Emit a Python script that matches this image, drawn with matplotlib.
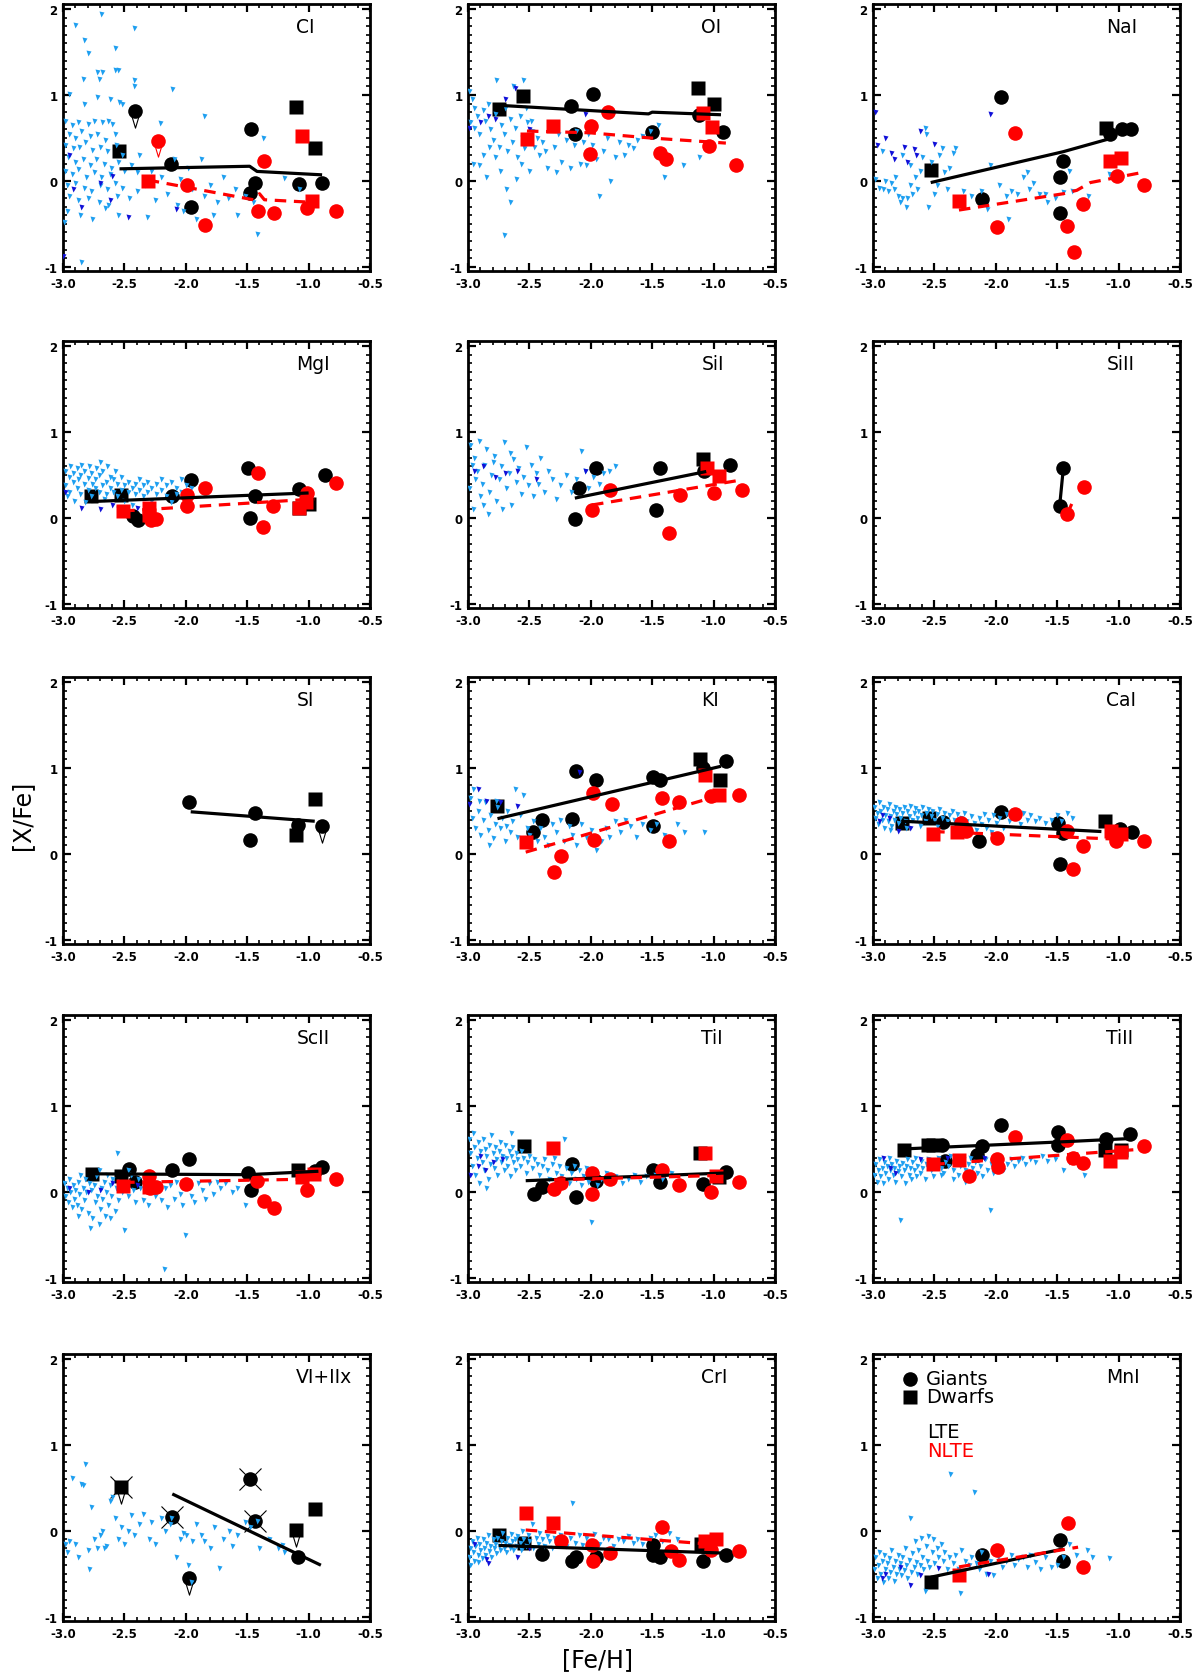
import matplotlib
matplotlib.use("Agg")
import matplotlib.pyplot as plt
from matplotlib.ticker import MultipleLocator, FormatStrFormatter

plt.rcParams['font.family'] = ['DejaVu Sans']
plt.rcParams['axes.unicode_minus'] = False

CYAN = '#1E9FF0'
BLUE = '#1010D8'
RED = '#FF0000'

# ---------------- CI ----------------
ci_bg = [(-2.90,1.82),(-2.69,1.94),(-2.42,1.78),(-2.83,1.64),(-2.58,1.55),(-2.80,1.49),(-2.72,1.27),(-2.68,1.27),
         (-2.58,1.29),(-2.55,1.29),(-2.71,1.19),(-2.84,1.19),(-2.42,1.18),(-2.42,1.10),(-2.11,1.07),(-2.95,1.01),
         (-2.72,0.98),(-2.62,0.95),(-2.83,0.90),(-2.52,0.89),(-2.54,0.92),(-1.85,0.76),(-2.21,0.67),(-1.37,0.50),
         (-2.98,0.70),(-2.93,0.65),(-2.88,0.68),(-2.80,0.66),(-2.75,0.70),(-2.68,0.68),(-2.63,0.70),(-2.60,0.66),
         (-2.95,0.55),(-2.90,0.50),(-2.85,0.58),(-2.78,0.52),(-2.72,0.55),(-2.66,0.48),(-2.58,0.55),(-2.98,0.42),
         (-2.92,0.38),(-2.87,0.40),(-2.82,0.45),(-2.76,0.36),(-2.70,0.40),(-2.64,0.35),(-2.57,0.42),(-2.52,0.30),
         (-2.96,0.28),(-2.90,0.22),(-2.84,0.25),(-2.78,0.18),(-2.73,0.25),(-2.67,0.20),(-2.61,0.15),(-2.55,0.22),
         (-2.98,0.12),(-2.93,0.08),(-2.88,0.14),(-2.81,0.05),(-2.75,0.10),(-2.69,0.05),(-2.62,0.08),(-2.50,0.12),
         (-2.45,0.18),(-2.40,0.10),(-2.97,-0.05),(-2.90,-0.02),(-2.83,-0.08),(-2.77,-0.12),(-2.70,-0.05),(-2.64,-0.10),
         (-2.58,-0.02),(-2.52,-0.08),(-2.95,-0.18),(-2.88,-0.22),(-2.80,-0.20),(-2.71,-0.25),(-2.63,-0.28),(-2.56,-0.18),
         (-2.46,-0.20),(-2.97,-0.35),(-2.86,-0.40),(-2.76,-0.45),(-2.66,-0.32),(-2.55,-0.40),(-2.99,-0.48),
         (-2.38,0.30),(-2.33,-0.05),(-2.28,0.12),(-2.25,-0.22),(-2.20,0.05),(-2.15,-0.15),(-2.10,0.25),(-2.07,-0.28),
         (-2.05,0.02),(-2.02,-0.35),(-1.98,0.15),(-1.95,-0.10),(-1.92,-0.45),(-1.88,0.25),(-1.85,-0.18),(-1.80,-0.05),
         (-1.78,-0.40),(-1.75,-0.25),(-1.70,0.05),(-1.66,-0.20),(-1.60,-0.10),(-1.58,-0.40),(-1.52,-0.18),(-1.45,-0.25),
         (-1.42,-0.62),(-2.32,-0.42),(-2.40,-0.12),(-2.85,-0.95),(-1.20,0.03),(-1.08,-0.10)]
ci_bg_blue = [(-2.92,-0.10),(-2.85,-0.30),(-2.62,-0.22),(-2.47,-0.42),(-3.0,-0.88),(-2.70,-0.02),(-2.95,0.30),
              (-2.08,-0.33),(-2.60,0.06)]
ci_lte_giants = [(-2.12,0.20),(-1.96,-0.30),(-1.47,0.60),(-1.44,-0.02),(-1.48,-0.14),(-1.08,-0.04),(-0.89,-0.02)]
ci_lte_giants_ul = [(-2.41,0.81)]
ci_lte_dwarfs = [(-2.54,0.35),(-1.10,0.86),(-0.95,0.38)]
ci_nlte_giants = [(-1.99,-0.05),(-1.84,-0.51),(-1.36,0.23),(-1.41,-0.35),(-1.28,-0.38),(-1.01,-0.32),(-0.78,-0.35)]
ci_nlte_giants_ul = [(-2.23,0.47)]
ci_nlte_dwarfs = [(-2.31,0.0),(-1.05,0.52),(-0.97,-0.24)]
ci_lte_line = [(-2.54,0.14),(-1.48,0.17),(-1.42,0.11),(-0.89,0.07)]
ci_nlte_line = [(-2.31,0.01),(-1.45,-0.22),(-1.40,-0.15),(-1.36,-0.22),(-0.97,-0.25)]

# ---------------- OI ----------------
oi_bg = [(-2.99,1.05),(-2.97,0.95),(-2.95,0.85),(-2.93,0.75),(-2.98,0.68),(-2.95,0.62),(-2.91,0.55),(-2.88,0.82),
         (-2.86,0.70),(-2.84,0.90),(-2.82,0.60),(-2.80,0.48),(-2.78,0.78),(-2.77,1.17),(-2.75,0.40),(-2.73,0.65),
         (-2.71,0.55),(-2.70,0.85),(-2.68,0.35),(-2.66,0.72),(-2.64,0.45),(-2.63,1.11),(-2.62,0.62),(-2.60,0.28),
         (-2.58,0.75),(-2.56,0.50),(-2.55,1.18),(-2.54,0.38),(-2.52,0.68),(-2.50,0.12),(-2.48,0.58),(-2.46,0.40),
         (-2.44,0.50),(-2.42,0.30),(-2.40,0.45),(-2.37,0.35),(-2.34,0.62),(-2.30,0.40),(-2.27,0.55),(-2.24,0.22),
         (-2.20,0.48),(-2.17,0.15),(-2.14,0.42),(-2.12,0.58),(-2.09,0.20),(-2.06,0.45),(-2.04,0.18),(-2.02,0.55),
         (-1.99,0.42),(-1.96,0.25),(-1.93,-0.18),(-1.90,0.35),(-1.87,0.50),(-1.84,0.00),(-1.80,0.28),(-1.77,0.45),
         (-1.73,0.30),(-1.70,0.42),(-1.66,0.38),(-1.62,0.48),(-1.58,0.52),(-1.52,0.58),(-1.45,0.65),(-1.40,0.05),
         (-1.25,0.18),(-1.12,0.28),(-2.96,0.20),(-2.91,0.19),(-2.85,0.05),(-2.83,0.40),(-2.78,0.28),(-2.74,0.12),
         (-2.71,-0.63),(-2.69,-0.10),(-2.66,-0.25),(-2.61,0.02),(-2.57,0.20),(-2.53,0.85),(-2.49,0.70),(-2.88,0.30),
         (-2.36,0.15),(-2.28,0.10)]
oi_bg_blue = [(-2.99,0.62),(-2.90,0.68),(-2.70,0.95),(-2.62,1.08),(-2.50,0.60),(-2.05,0.78),(-2.84,0.75),(-2.78,0.72)]
oi_lte_giants = [(-2.16,0.87),(-1.98,1.01),(-2.13,0.54),(-1.50,0.57),(-1.12,0.77),(-0.92,0.57)]
oi_lte_dwarfs = [(-2.75,0.84),(-2.55,0.99),(-1.13,1.08),(-1.00,0.89)]
oi_nlte_giants = [(-1.86,0.80),(-2.00,0.64),(-2.01,0.31),(-1.44,0.32),(-1.39,0.25),(-1.04,0.41),(-0.82,0.19)]
oi_nlte_dwarfs = [(-2.52,0.49),(-2.31,0.64),(-1.09,0.79),(-1.01,0.63)]
oi_lte_line = [(-2.75,0.88),(-1.53,0.78),(-1.50,0.80),(-0.94,0.77)]
oi_nlte_line = [(-2.52,0.58),(-2.01,0.56),(-1.52,0.50),(-0.90,0.44)]

# ---------------- NaI ----------------
na_bg = [(-2.98,0.02),(-2.95,-0.08),(-2.92,-0.10),(-2.90,0.00),(-2.88,-0.12),(-2.85,-0.02),(-2.83,-0.10),(-2.80,-0.18),
         (-2.78,-0.25),(-2.76,-0.20),(-2.73,-0.30),(-2.72,-0.20),(-2.70,-0.05),(-2.68,-0.15),(-2.66,0.05),(-2.64,-0.10),
         (-2.62,0.12),(-2.60,0.28),(-2.58,0.62),(-2.57,0.55),(-2.55,-0.30),(-2.53,0.22),(-2.50,-0.15),(-2.48,-0.05),
         (-2.46,0.30),(-2.44,0.38),(-2.42,0.10),(-2.40,-0.10),(-2.38,0.15),(-2.35,0.32),(-2.33,0.38),(-2.30,-0.22),
         (-2.27,-0.12),(-2.20,-0.18),(-2.12,-0.12),(-2.07,-0.33),(-2.05,0.18),(-1.97,-0.05),(-1.92,-0.18),(-1.88,-0.12),
         (-1.83,-0.15),(-1.78,0.05),(-1.75,0.10),(-1.73,-0.10),(-1.70,-0.02),(-1.65,-0.15),(-1.60,-0.15),(-1.58,-0.25),
         (-1.52,-0.20),(-1.45,-0.13),(-1.40,0.12),(-1.38,-0.12),(-1.25,-0.18),(-1.08,0.08),(-1.90,-0.45),(-2.82,0.05),
         (-2.76,0.30),(-2.70,0.18),(-2.93,0.35)]
na_bg_blue = [(-2.98,0.80),(-2.97,0.42),(-2.90,0.50),(-2.85,0.33),(-2.83,0.25),(-2.75,0.40),(-2.72,0.22),(-2.65,0.30),
              (-2.62,0.58),(-2.50,0.43),(-2.05,0.78),(-2.67,0.37)]
na_lte_giants = [(-1.96,0.98),(-2.11,-0.21),(-1.45,0.23),(-1.48,0.04),(-1.48,-0.37),(-1.07,0.55),(-0.97,0.60),(-0.90,0.60)]
na_lte_dwarfs = [(-2.53,0.13),(-1.10,0.62)]
na_nlte_giants = [(-1.84,0.56),(-1.99,-0.54),(-1.42,-0.53),(-1.36,-0.83),(-1.29,-0.27),(-1.01,0.06),(-0.79,-0.05)]
na_nlte_dwarfs = [(-2.30,-0.23),(-1.07,0.23),(-0.98,0.27)]
na_lte_line = [(-2.53,-0.02),(-1.45,0.34),(-1.05,0.50)]
na_nlte_line = [(-2.30,-0.34),(-1.45,-0.15),(-1.34,-0.11),(-1.23,-0.02),(-0.80,0.10)]

# ---------------- MgI ----------------
mg_bg = [(-2.98,0.55),(-2.98,0.38),(-2.97,0.25),(-2.95,0.48),(-2.95,0.30),(-2.94,0.60),(-2.92,0.42),(-2.92,0.52),
         (-2.91,0.20),(-2.89,0.35),(-2.89,0.58),(-2.88,0.45),(-2.86,0.28),(-2.86,0.50),(-2.85,0.62),(-2.83,0.40),
         (-2.83,0.55),(-2.82,0.18),(-2.80,0.33),(-2.80,0.47),(-2.79,0.60),(-2.77,0.25),(-2.77,0.52),(-2.76,0.40),
         (-2.74,0.45),(-2.74,0.35),(-2.73,0.58),(-2.71,0.30),(-2.71,0.50),(-2.70,0.65),(-2.68,0.38),(-2.68,0.55),
         (-2.67,0.22),(-2.65,0.42),(-2.65,0.28),(-2.64,0.60),(-2.62,0.35),(-2.62,0.48),(-2.59,0.30),(-2.59,0.45),
         (-2.58,0.55),(-2.56,0.40),(-2.56,0.25),(-2.53,0.33),(-2.53,0.48),(-2.50,0.38),(-2.50,0.20),(-2.47,0.42),
         (-2.47,0.30),(-2.44,0.35),(-2.44,0.15),(-2.41,0.40),(-2.41,0.28),(-2.38,0.32),(-2.38,0.45),(-2.35,0.25),
         (-2.35,0.38),(-2.32,0.42),(-2.32,0.30),(-2.28,0.20),(-2.28,0.35),(-2.24,0.40),(-2.24,0.28),(-2.20,0.32),
         (-2.20,0.45),(-2.16,0.25),(-2.16,0.38),(-2.12,0.42),(-2.12,0.18),(-2.08,0.35),(-2.08,0.28),(-2.04,0.45),
         (-2.04,0.30),(-2.00,0.38),(-1.96,0.35)]
mg_bg_blue = [(-2.85,0.12),(-2.70,0.10),(-2.60,0.15),(-2.98,0.30),(-2.40,0.12),(-2.55,0.10)]
mg_lte_giants = [(-1.49,0.58),(-0.87,0.50),(-1.44,0.25),(-1.08,0.34),(-1.48,0.0),(-1.96,0.44),(-2.11,0.25),
                 (-2.43,0.02),(-2.39,-0.03)]
mg_lte_dwarfs = [(-2.77,0.25),(-2.53,0.27),(-1.08,0.12),(-1.00,0.16)]
mg_nlte_giants = [(-1.41,0.52),(-1.84,0.35),(-1.99,0.27),(-1.99,0.14),(-1.29,0.14),(-1.37,-0.11),(-0.78,0.41),
                  (-1.01,0.29),(-2.28,-0.03),(-2.24,-0.01)]
mg_nlte_dwarfs = [(-2.51,0.08),(-2.30,0.12),(-2.30,0.03),(-1.08,0.12),(-1.02,0.18)]
mg_lte_line = [(-2.77,0.19),(-1.00,0.29)]
mg_nlte_line = [(-2.51,0.08),(-0.95,0.22)]

# ---------------- SiI ----------------
si_bg = [(-2.98,0.85),(-2.95,0.70),(-2.93,0.55),(-2.91,0.90),(-2.89,0.40),(-2.87,0.62),(-2.85,0.80),(-2.83,0.30),
         (-2.81,0.50),(-2.79,0.72),(-2.77,0.20),(-2.75,0.45),(-2.73,0.60),(-2.71,0.88),(-2.69,0.35),(-2.67,0.52),
         (-2.65,0.15),(-2.63,0.68),(-2.61,0.42),(-2.59,0.58),(-2.57,0.28),(-2.55,0.48),(-2.53,0.82),(-2.51,0.38),
         (-2.49,0.62),(-2.47,0.25),(-2.45,0.52),(-2.43,0.40),(-2.41,0.70),(-2.38,0.30),(-2.35,0.55),(-2.32,0.45),
         (-2.28,0.22),(-2.25,0.38),(-2.20,0.50),(-2.16,0.30),(-2.12,0.45),(-2.08,0.78),(-2.05,0.55),(-2.02,0.35),
         (-1.98,0.48),(-1.93,0.40),(-1.90,0.52),(-1.85,0.55),(-1.80,0.60),(-2.96,0.10),(-2.90,0.25),(-2.84,0.05),
         (-2.72,0.10),(-2.99,0.35),(-2.97,0.62),(-2.94,0.45),(-2.88,0.15),(-2.80,0.65),(-2.66,0.75)]
si_bg_blue = [(-2.95,0.55),(-2.88,0.60),(-2.78,0.48),(-2.70,0.52),(-2.60,0.55),(-2.45,0.45),(-2.05,0.55)]
si_lte_giants = [(-2.13,-0.01),(-2.10,0.35),(-1.96,0.58),(-1.44,0.58),(-1.47,0.09),(-1.08,0.55),(-0.87,0.62)]
si_lte_dwarfs = [(-1.09,0.69)]
si_nlte_giants = [(-1.99,0.09),(-1.84,0.32),(-1.36,-0.18),(-1.27,0.27),(-1.00,0.29),(-0.77,0.32)]
si_nlte_dwarfs = [(-1.05,0.58),(-0.96,0.49)]
si_lte_line = [(-2.13,0.23),(-1.06,0.54)]
si_nlte_line = [(-1.99,0.15),(-0.78,0.44)]

# ---------------- SiII ----------------
si2_lte_giants = [(-1.45,0.58),(-1.48,0.14)]
si2_nlte_giants = [(-1.28,0.36),(-1.42,0.04)]
si2_lte_line = [(-1.48,0.14),(-1.45,0.58)]
si2_nlte_line = [(-1.42,0.04),(-1.37,0.20)]

# ---------------- SI ----------------
s_lte_giants = [(-1.97,0.60),(-1.44,0.48),(-1.48,0.16),(-1.09,0.34)]
s_lte_giants_ul = [(-0.89,0.32)]
s_lte_dwarfs = [(-0.95,0.64),(-1.10,0.22)]
s_lte_line = [(-1.96,0.49),(-0.95,0.38)]

# ---------------- KI ----------------
k_bg = [(-2.98,0.65),(-2.96,0.75),(-2.94,0.30),(-2.92,0.50),(-2.90,0.22),(-2.88,0.40),(-2.86,0.60),(-2.84,0.28),
        (-2.82,0.45),(-2.80,0.18),(-2.78,0.35),(-2.76,0.55),(-2.74,0.30),(-2.72,0.42),(-2.70,0.15),(-2.68,0.50),
        (-2.66,0.25),(-2.64,0.38),(-2.62,0.75),(-2.60,0.20),(-2.58,0.45),(-2.56,0.10),(-2.55,0.68),(-2.52,0.30),
        (-2.50,0.22),(-2.47,0.38),(-2.44,0.15),(-2.41,0.30),(-2.38,0.20),(-2.35,0.10),(-2.32,0.35),(-2.28,0.25),
        (-2.25,0.40),(-2.22,0.15),(-2.18,0.32),(-2.15,0.22),(-2.12,0.10),(-2.08,0.35),(-2.04,0.20),(-2.00,0.28),
        (-1.96,0.05),(-1.92,0.15),(-1.88,0.30),(-1.85,0.20),(-1.80,0.38),(-1.76,0.25),(-1.72,0.40),(-1.68,0.32),
        (-1.63,0.20),(-1.58,0.35),(-1.52,0.28),(-1.47,0.35),(-1.40,0.22),(-1.36,0.18),(-1.30,0.35),(-1.24,0.25),
        (-1.08,0.25),(-2.97,0.42),(-2.91,0.62),(-2.83,0.10),(-2.77,0.62),(-2.69,0.32)]
k_bg_blue = [(-2.99,0.58),(-2.92,0.76),(-2.85,0.62),(-2.74,0.60),(-2.10,0.95),(-2.60,0.56)]
k_lte_giants = [(-2.12,0.97),(-1.96,0.86),(-2.40,0.40),(-2.47,0.25),(-2.15,0.41),(-1.49,0.90),(-1.44,0.86),
                (-1.49,0.32),(-0.90,1.08),(-1.09,1.00)]
k_lte_dwarfs = [(-2.76,0.56),(-1.11,1.11),(-0.95,0.86)]
k_nlte_giants = [(-1.98,0.71),(-1.83,0.58),(-1.97,0.16),(-2.24,-0.03),(-2.30,-0.21),(-1.42,0.65),(-1.28,0.60),
                 (-1.36,0.15),(-1.02,0.67),(-0.79,0.69)]
k_nlte_dwarfs = [(-2.53,0.14),(-1.07,0.92),(-0.96,0.68)]
k_lte_line = [(-2.76,0.41),(-0.94,1.02)]
k_nlte_line = [(-2.53,0.02),(-1.00,0.66)]

# ---------------- CaI ----------------
ca_bg = [(-2.99,0.55),(-2.98,0.42),(-2.97,0.48),(-2.96,0.35),(-2.95,0.60),(-2.94,0.50),(-2.93,0.40),(-2.92,0.55),
         (-2.91,0.30),(-2.90,0.45),(-2.89,0.52),(-2.88,0.38),(-2.87,0.58),(-2.86,0.44),(-2.85,0.33),(-2.84,0.50),
         (-2.83,0.40),(-2.82,0.55),(-2.81,0.46),(-2.80,0.36),(-2.79,0.52),(-2.78,0.42),(-2.76,0.48),(-2.75,0.55),
         (-2.74,0.38),(-2.72,0.50),(-2.71,0.44),(-2.70,0.56),(-2.68,0.40),(-2.67,0.48),(-2.66,0.53),(-2.64,0.42),
         (-2.63,0.50),(-2.61,0.45),(-2.60,0.55),(-2.58,0.38),(-2.57,0.48),(-2.55,0.52),(-2.53,0.44),(-2.52,0.50),
         (-2.50,0.40),(-2.48,0.47),(-2.46,0.52),(-2.44,0.42),(-2.42,0.48),(-2.40,0.38),(-2.38,0.45),(-2.36,0.50),
         (-2.34,0.40),(-2.32,0.46),(-2.30,0.35),(-2.28,0.42),(-2.26,0.48),(-2.24,0.38),(-2.22,0.30),(-2.20,0.44),
         (-2.18,0.36),(-2.16,0.28),(-2.14,0.42),(-2.12,0.35),(-2.10,0.47),(-2.08,0.30),(-2.06,0.40),(-2.04,0.25),
         (-2.02,0.45),(-2.00,0.36),(-1.97,0.42),(-1.94,0.30),(-1.92,0.46),(-1.89,0.38),(-1.86,0.50),(-1.83,0.42),
         (-1.80,0.35),(-1.78,0.48),(-1.75,0.40),(-1.72,0.45),(-1.68,0.38),(-1.65,0.42),(-1.60,0.36),(-1.55,0.40),
         (-1.50,0.45),(-1.47,0.38),(-1.42,0.48),(-1.38,0.42),(-2.86,0.28),(-2.73,0.30),(-2.62,0.33),(-2.48,0.32)]
ca_bg_blue = [(-2.95,0.38),(-2.87,0.42),(-2.80,0.27),(-2.70,0.30),(-2.93,0.45)]
ca_lte_giants = [(-1.96,0.49),(-2.14,0.15),(-2.43,0.37),(-1.49,0.36),(-1.45,0.24),(-1.48,-0.12),(-0.89,0.26),(-0.99,0.29)]
ca_lte_dwarfs = [(-2.76,0.36),(-2.54,0.42),(-1.11,0.38)]
ca_nlte_giants = [(-1.84,0.46),(-1.99,0.18),(-2.28,0.36),(-2.24,0.27),(-1.42,0.27),(-1.29,0.09),(-1.37,-0.18),
                  (-1.02,0.15),(-0.79,0.15)]
ca_nlte_dwarfs = [(-2.51,0.23),(-2.32,0.26),(-1.06,0.27),(-0.98,0.23)]
ca_lte_line = [(-2.76,0.38),(-1.14,0.26)]
ca_nlte_line = [(-2.51,0.26),(-0.99,0.17)]

# ---------------- ScII ----------------
sc_bg = [(-2.99,0.10),(-2.98,-0.05),(-2.97,0.05),(-2.96,-0.12),(-2.95,0.15),(-2.94,0.00),(-2.93,-0.18),(-2.92,0.08),
         (-2.91,-0.08),(-2.90,0.02),(-2.89,-0.15),(-2.88,0.12),(-2.87,-0.02),(-2.86,0.20),(-2.85,-0.20),(-2.84,0.05),
         (-2.83,-0.10),(-2.82,0.15),(-2.81,0.00),(-2.80,-0.25),(-2.79,0.10),(-2.78,-0.42),(-2.77,0.02),(-2.76,-0.30),
         (-2.75,0.08),(-2.74,-0.12),(-2.73,0.18),(-2.72,-0.05),(-2.71,0.25),(-2.70,-0.20),(-2.69,0.05),(-2.68,-0.08),
         (-2.67,0.12),(-2.66,-0.28),(-2.65,0.00),(-2.64,0.20),(-2.63,-0.15),(-2.62,0.08),(-2.61,-0.05),(-2.60,0.15),
         (-2.58,-0.22),(-2.57,0.05),(-2.56,0.45),(-2.55,-0.10),(-2.54,0.12),(-2.52,0.00),(-2.50,-0.45),(-2.49,0.10),
         (-2.47,-0.05),(-2.45,0.20),(-2.43,0.02),(-2.41,-0.12),(-2.39,0.15),(-2.37,0.05),(-2.35,-0.10),(-2.33,0.08),
         (-2.31,-0.15),(-2.29,0.12),(-2.27,0.00),(-2.25,-0.05),(-2.23,0.10),(-2.20,-0.10),(-2.18,-0.90),(-2.17,0.05),
         (-2.15,-0.18),(-2.13,0.08),(-2.10,-0.08),(-2.08,0.12),(-2.05,-0.02),(-2.03,-0.15),(-2.01,-0.50),(-1.99,0.05),
         (-1.96,-0.05),(-1.93,-0.12),(-1.90,0.10),(-1.87,0.02),(-1.84,-0.08),(-1.81,0.10),(-1.78,-0.02),(-1.75,0.12),
         (-1.72,0.05),(-1.68,0.10),(-1.62,0.00),(-1.58,0.05),(-1.52,-0.15),(-2.26,0.20),(-2.47,0.25),(-2.88,-0.28),
         (-2.71,-0.38),(-2.62,-0.30)]
sc_bg_blue = [(-2.95,0.05),(-2.80,0.0),(-2.70,0.02),(-2.60,0.10),(-2.40,0.08)]
sc_lte_giants = [(-1.97,0.38),(-2.11,0.25),(-2.46,0.27),(-2.41,0.11),(-1.49,0.22),(-1.47,0.02),(-0.89,0.29),(-0.95,0.24)]
sc_lte_dwarfs = [(-2.76,0.21),(-2.53,0.19),(-1.09,0.26)]
sc_nlte_giants = [(-2.30,0.18),(-2.24,0.06),(-2.29,0.04),(-2.00,0.09),(-1.42,0.13),(-1.36,-0.11),(-1.28,-0.19),
                  (-1.01,0.02),(-0.78,0.15)]
sc_nlte_dwarfs = [(-2.51,0.07),(-2.30,0.06),(-1.05,0.17),(-0.96,0.21)]
sc_lte_line = [(-2.76,0.21),(-1.50,0.20),(-0.92,0.24)]
sc_nlte_line = [(-2.51,0.11),(-0.91,0.15)]

# ---------------- TiI ----------------
ti_bg = [(-2.99,0.62),(-2.98,0.45),(-2.97,0.30),(-2.96,0.68),(-2.95,0.52),(-2.94,0.20),(-2.93,0.40),(-2.92,0.58),
         (-2.91,0.10),(-2.90,0.48),(-2.89,0.35),(-2.88,0.62),(-2.87,0.25),(-2.86,0.50),(-2.85,0.42),(-2.84,0.15),
         (-2.83,0.55),(-2.82,0.32),(-2.81,0.66),(-2.80,0.45),(-2.79,0.28),(-2.78,0.52),(-2.77,0.38),(-2.76,0.20),
         (-2.75,0.48),(-2.74,0.58),(-2.73,0.35),(-2.72,0.42),(-2.71,0.25),(-2.70,0.55),(-2.69,0.40),(-2.68,0.30),
         (-2.67,0.48),(-2.66,0.18),(-2.65,0.42),(-2.64,0.52),(-2.63,0.35),(-2.62,0.25),(-2.61,0.45),(-2.60,0.38),
         (-2.58,0.30),(-2.57,0.48),(-2.55,0.40),(-2.53,0.22),(-2.52,0.35),(-2.50,0.42),(-2.48,0.28),(-2.46,0.38),
         (-2.44,0.32),(-2.42,0.20),(-2.40,0.30),(-2.38,0.38),(-2.36,0.25),(-2.34,0.15),(-2.32,0.32),(-2.30,0.40),
         (-2.28,0.22),(-2.26,0.30),(-2.24,0.18),(-2.22,0.62),(-2.20,0.28),(-2.18,0.10),(-2.16,0.22),(-2.14,0.30),
         (-2.12,0.15),(-2.10,0.25),(-2.08,0.08),(-2.06,0.18),(-2.04,0.28),(-2.02,0.12),(-2.00,-0.35),(-1.98,0.20),
         (-1.95,0.08),(-1.92,0.15),(-1.88,0.22),(-1.85,0.12),(-1.80,0.18),(-1.75,0.10),(-1.70,0.15),(-1.65,0.20),
         (-1.60,0.12),(-1.55,0.18),(-1.48,0.20),(-1.42,0.15),(-1.35,0.22),(-2.65,0.68),(-2.85,0.05)]
ti_bg_blue = [(-2.98,0.20),(-2.92,0.30),(-2.86,0.25),(-2.80,0.35),(-2.72,0.38),(-2.90,0.42)]
ti_lte_giants = [(-2.46,-0.03),(-2.40,0.06),(-2.15,0.32),(-2.12,-0.06),(-1.96,0.13),(-1.49,0.26),(-1.44,0.12),
                 (-1.09,0.09),(-0.90,0.23)]
ti_lte_dwarfs = [(-2.54,0.53),(-1.11,0.45),(-0.96,0.17)]
ti_nlte_giants = [(-2.30,0.03),(-2.24,0.10),(-1.99,0.22),(-1.99,-0.03),(-1.84,0.15),(-1.42,0.26),(-1.28,0.08),
                  (-1.02,0.0),(-0.79,0.12)]
ti_nlte_dwarfs = [(-2.31,0.51),(-1.07,0.45),(-0.98,0.19)]
ti_lte_line = [(-2.53,0.13),(-0.90,0.22)]
ti_nlte_line = [(-2.30,0.14),(-0.98,0.19)]

# ---------------- TiII ----------------
ti2_bg = [(-2.99,0.20),(-2.98,0.32),(-2.97,0.12),(-2.96,0.25),(-2.95,0.38),(-2.94,0.18),(-2.93,0.28),(-2.92,0.10),
          (-2.91,0.35),(-2.90,0.22),(-2.89,0.30),(-2.88,0.15),(-2.87,0.40),(-2.86,0.25),(-2.85,0.32),(-2.84,0.20),
          (-2.83,0.28),(-2.82,0.12),(-2.81,0.36),(-2.80,0.24),(-2.79,0.30),(-2.78,-0.33),(-2.77,0.18),(-2.76,0.34),
          (-2.75,0.26),(-2.74,0.10),(-2.73,0.30),(-2.72,0.38),(-2.71,0.20),(-2.70,0.28),(-2.69,0.15),(-2.68,0.35),
          (-2.67,0.25),(-2.66,0.40),(-2.65,0.18),(-2.64,0.30),(-2.62,0.22),(-2.61,0.36),(-2.60,0.28),(-2.58,0.15),
          (-2.57,0.32),(-2.55,0.38),(-2.53,0.25),(-2.51,0.18),(-2.49,0.32),(-2.47,0.40),(-2.45,0.28),(-2.43,0.22),
          (-2.41,0.35),(-2.39,0.30),(-2.37,0.42),(-2.35,0.26),(-2.33,0.35),(-2.31,0.20),(-2.29,0.30),(-2.27,0.38),
          (-2.25,0.25),(-2.23,0.32),(-2.21,0.40),(-2.19,0.28),(-2.17,0.35),(-2.15,0.22),(-2.13,0.30),(-2.11,0.18),
          (-2.09,0.38),(-2.07,0.25),(-2.05,-0.21),(-2.04,0.32),(-2.02,0.22),(-2.00,0.28),(-1.97,0.35),(-1.94,0.25),
          (-1.91,0.32),(-1.88,0.38),(-1.85,0.30),(-1.82,0.36),(-1.79,0.40),(-1.76,0.33),(-1.72,0.38),(-1.68,0.35),
          (-1.62,0.42),(-1.58,0.36),(-1.52,0.38),(-1.45,0.25),(-1.40,0.35),(-1.33,0.30),(-1.28,0.20),(-2.35,0.15),
          (-2.25,0.12),(-2.45,0.20)]
ti2_bg_blue = [(-2.92,0.40),(-2.86,0.28),(-2.82,0.22),(-2.62,0.38),(-2.40,0.40),(-2.10,0.40)]
ti2_lte_giants = [(-1.96,0.78),(-1.49,0.70),(-1.49,0.55),(-1.10,0.62),(-0.91,0.67),(-2.11,0.53),(-2.15,0.43),
                  (-2.44,0.55),(-2.41,0.36)]
ti2_lte_dwarfs = [(-2.75,0.49),(-2.55,0.55),(-2.51,0.55),(-1.11,0.49),(-0.98,0.49)]
ti2_nlte_giants = [(-1.84,0.64),(-1.99,0.38),(-1.98,0.29),(-2.22,0.19),(-1.42,0.60),(-1.37,0.40),(-1.29,0.34),
                   (-0.79,0.53)]
ti2_nlte_dwarfs = [(-2.51,0.32),(-2.30,0.37),(-1.07,0.36),(-0.98,0.47)]
ti2_lte_line = [(-2.75,0.50),(-1.50,0.58),(-0.92,0.62)]
ti2_nlte_line = [(-2.51,0.32),(-0.88,0.49)]

# ---------------- VI+IIx ----------------
v_bg = [(-2.97,-0.25),(-2.95,-0.12),(-2.93,0.62),(-2.90,-0.15),(-2.88,-0.30),(-2.85,0.55),(-2.84,0.53),(-2.82,0.78),
        (-2.80,-0.22),(-2.79,-0.45),(-2.77,0.28),(-2.75,-0.10),(-2.72,-0.20),(-2.70,-0.05),(-2.68,0.00),(-2.65,-0.18),
        (-2.62,0.35),(-2.60,0.40),(-2.58,0.15),(-2.55,-0.10),(-2.53,0.05),(-2.50,-0.15),(-2.47,0.00),(-2.45,0.18),
        (-2.42,-0.05),(-2.38,0.08),(-2.35,0.20),(-2.30,-0.10),(-2.28,0.10),(-2.25,-0.15),(-2.20,0.15),(-2.17,0.00),
        (-2.13,0.08),(-2.08,-0.30),(-2.05,-0.10),(-2.02,-0.02),(-1.98,-0.40),(-1.96,-0.60),(-1.95,-0.12),(-1.92,0.08),
        (-1.88,-0.05),(-1.85,-0.12),(-1.80,-0.20),(-1.77,0.05),(-1.73,-0.43),(-1.70,-0.10),(-1.65,0.00),(-1.62,-0.18),
        (-1.58,-0.05),(-1.52,0.10),(-1.48,0.05),(-1.42,0.12),(-1.40,-0.20),(-1.32,-0.10),(-1.25,-0.20),(-1.20,-0.25),
        (-1.22,-0.17),(-2.98,-0.15),(-2.67,-0.20),(-2.12,0.15),(-2.00,-0.05)]
v_lte_giants = [(-1.09,-0.30),(-2.11,0.16),(-1.48,0.60),(-1.44,0.11)]
v_lte_giants_ul = [(-1.97,-0.55)]
v_lte_dwarfs = [(-0.95,0.25)]
v_lte_dwarfs_ul = [(-2.53,0.51),(-1.10,0.01)]
v_crossed = [(-2.53,0.51),(-2.11,0.16),(-1.48,0.60),(-1.44,0.11)]
v_lte_line = [(-2.11,0.43),(-0.90,-0.40)]

# ---------------- CrI ----------------
cr_bg = [(-2.99,-0.30),(-2.98,-0.20),(-2.97,-0.12),(-2.96,-0.25),(-2.95,-0.35),(-2.94,-0.18),(-2.93,-0.08),(-2.92,-0.28),
         (-2.91,-0.15),(-2.90,-0.22),(-2.89,-0.32),(-2.88,-0.10),(-2.87,-0.20),(-2.86,-0.28),(-2.85,-0.14),(-2.84,-0.05),
         (-2.83,-0.24),(-2.82,-0.18),(-2.81,-0.30),(-2.80,-0.10),(-2.79,-0.20),(-2.78,-0.15),(-2.77,-0.26),(-2.76,-0.08),
         (-2.75,-0.18),(-2.74,-0.22),(-2.73,-0.12),(-2.72,-0.02),(-2.71,-0.20),(-2.70,-0.14),(-2.69,-0.25),(-2.68,-0.08),
         (-2.67,-0.16),(-2.66,-0.20),(-2.65,-0.04),(-2.64,-0.12),(-2.63,-0.22),(-2.62,-0.10),(-2.61,-0.18),(-2.60,-0.06),
         (-2.58,-0.14),(-2.57,-0.22),(-2.56,0.00),(-2.55,-0.10),(-2.53,-0.18),(-2.51,-0.05),(-2.50,-0.12),(-2.48,0.08),
         (-2.47,-0.20),(-2.45,-0.08),(-2.43,-0.15),(-2.42,-0.02),(-2.40,-0.10),(-2.38,-0.18),(-2.36,-0.06),(-2.34,-0.12),
         (-2.32,-0.20),(-2.30,-0.08),(-2.27,-0.14),(-2.25,-0.05),(-2.22,-0.12),(-2.20,-0.18),(-2.17,-0.08),(-2.15,0.32),
         (-2.13,-0.14),(-2.10,-0.05),(-2.07,-0.16),(-2.04,-0.08),(-2.00,-0.12),(-1.97,-0.04),(-1.93,-0.15),(-1.90,-0.08),
         (-1.86,-0.10),(-1.82,-0.18),(-1.78,-0.10),(-1.74,-0.12),(-1.70,-0.06),(-1.66,-0.14),(-1.62,-0.10),(-1.58,-0.15),
         (-1.52,-0.08),(-1.48,-0.05),(-1.42,-0.12),(-1.36,-0.02),(-1.30,-0.10),(-2.98,-0.40),(-2.92,-0.36)]
cr_bg_blue = [(-2.85,-0.33),(-2.84,-0.38),(-2.60,-0.30),(-2.50,-0.20),(-2.95,-0.15)]
cr_lte_giants = [(-2.40,-0.27),(-2.15,-0.35),(-2.12,-0.30),(-1.96,-0.31),(-1.49,-0.16),(-1.49,-0.28),(-1.44,-0.31),
                 (-1.09,-0.35),(-0.90,-0.28)]
cr_lte_dwarfs = [(-2.75,-0.05),(-2.54,-0.14),(-1.10,-0.15)]
cr_nlte_giants = [(-2.24,-0.12),(-1.99,-0.17),(-1.98,-0.35),(-1.84,-0.26),(-1.42,0.04),(-1.35,-0.24),(-1.28,-0.34),
                  (-1.02,-0.22),(-0.79,-0.23)]
cr_nlte_dwarfs = [(-2.53,0.21),(-2.31,0.09),(-1.07,-0.12),(-0.98,-0.10)]
cr_lte_line = [(-2.75,-0.17),(-0.90,-0.26)]
cr_nlte_line = [(-2.53,0.01),(-0.98,-0.16)]

# ---------------- MnI ----------------
mn_bg = [(-2.99,-0.45),(-2.98,-0.30),(-2.97,-0.55),(-2.96,-0.40),(-2.95,-0.25),(-2.94,-0.50),(-2.93,-0.35),(-2.92,-0.60),
         (-2.91,-0.28),(-2.90,-0.45),(-2.89,-0.38),(-2.88,-0.55),(-2.87,-0.32),(-2.86,-0.48),(-2.85,-0.22),(-2.84,-0.42),
         (-2.83,-0.58),(-2.82,-0.35),(-2.81,-0.50),(-2.80,-0.28),(-2.79,-0.44),(-2.78,-0.38),(-2.77,-0.52),(-2.76,-0.30),
         (-2.75,-0.46),(-2.74,-0.20),(-2.73,-0.40),(-2.72,-0.55),(-2.71,-0.34),(-2.70,0.15),(-2.69,-0.48),(-2.68,-0.26),
         (-2.67,-0.42),(-2.66,-0.12),(-2.65,-0.36),(-2.64,-0.50),(-2.63,-0.22),(-2.62,-0.40),(-2.61,-0.08),(-2.60,-0.30),
         (-2.59,-0.45),(-2.58,-0.70),(-2.57,-0.18),(-2.56,-0.35),(-2.55,-0.06),(-2.54,-0.42),(-2.52,-0.25),(-2.51,-0.10),
         (-2.50,-0.38),(-2.48,-0.20),(-2.47,-0.30),(-2.45,-0.15),(-2.43,-0.35),(-2.42,-0.25),(-2.40,-0.45),(-2.38,-0.30),
         (-2.37,0.66),(-2.35,-0.38),(-2.33,-0.28),(-2.31,-0.45),(-2.29,-0.72),(-2.28,-0.22),(-2.25,-0.35),(-2.22,-0.40),
         (-2.20,-0.30),(-2.18,0.45),(-2.16,-0.38),(-2.14,-0.45),(-2.12,-0.25),(-2.08,-0.50),(-2.05,-0.35),(-2.02,-0.52),
         (-1.98,-0.30),(-1.95,-0.42),(-1.92,-0.35),(-1.88,-0.28),(-1.85,-0.40),(-1.82,-0.33),(-1.78,-0.30),(-1.75,-0.42),
         (-1.72,-0.28),(-1.68,-0.36),(-1.64,-0.45),(-1.60,-0.30),(-1.55,-0.42),(-1.50,-0.40),(-1.45,-0.30),(-1.40,-0.15),
         (-1.35,-0.28),(-1.30,-0.46),(-1.26,-0.22),(-1.22,-0.30),(-1.08,-0.32)]
mn_bg_blue = [(-2.93,-0.55),(-2.90,-0.50),(-2.70,-0.63),(-2.62,-0.52),(-2.47,-0.43),(-2.06,-0.50),(-2.78,-0.42)]
mn_lte_giants = [(-2.11,-0.28),(-1.48,-0.11),(-1.45,-0.35)]
mn_lte_dwarfs = [(-2.53,-0.60)]
mn_nlte_giants = [(-1.99,-0.22),(-1.41,0.09),(-1.29,-0.42)]
mn_nlte_dwarfs = [(-2.30,-0.52)]
mn_lte_line = [(-2.53,-0.54),(-1.45,-0.21)]
mn_nlte_line = [(-2.30,-0.42),(-1.33,-0.19)]

panel_names = ['CI', 'OI', 'NaI', 'MgI', 'SiI', 'SiII', 'SI', 'KI', 'CaI',
               'ScII', 'TiI', 'TiII', 'VI+IIx', 'CrI', 'MnI']

panels = [
    dict(bg=ci_bg, bgb=ci_bg_blue, lg=ci_lte_giants, lgu=ci_lte_giants_ul, ld=ci_lte_dwarfs,
         ng=ci_nlte_giants, ngu=ci_nlte_giants_ul, nd=ci_nlte_dwarfs, ll=ci_lte_line, nl=ci_nlte_line),
    dict(bg=oi_bg, bgb=oi_bg_blue, lg=oi_lte_giants, ld=oi_lte_dwarfs, ng=oi_nlte_giants, nd=oi_nlte_dwarfs,
         ll=oi_lte_line, nl=oi_nlte_line),
    dict(bg=na_bg, bgb=na_bg_blue, lg=na_lte_giants, ld=na_lte_dwarfs, ng=na_nlte_giants, nd=na_nlte_dwarfs,
         ll=na_lte_line, nl=na_nlte_line),
    dict(bg=mg_bg, bgb=mg_bg_blue, lg=mg_lte_giants, ld=mg_lte_dwarfs, ng=mg_nlte_giants, nd=mg_nlte_dwarfs,
         ll=mg_lte_line, nl=mg_nlte_line),
    dict(bg=si_bg, bgb=si_bg_blue, lg=si_lte_giants, ld=si_lte_dwarfs, ng=si_nlte_giants, nd=si_nlte_dwarfs,
         ll=si_lte_line, nl=si_nlte_line),
    dict(lg=si2_lte_giants, ng=si2_nlte_giants, ll=si2_lte_line, nl=si2_nlte_line),
    dict(lg=s_lte_giants, lgu=s_lte_giants_ul, ld=s_lte_dwarfs, ll=s_lte_line),
    dict(bg=k_bg, bgb=k_bg_blue, lg=k_lte_giants, ld=k_lte_dwarfs, ng=k_nlte_giants, nd=k_nlte_dwarfs,
         ll=k_lte_line, nl=k_nlte_line),
    dict(bg=ca_bg, bgb=ca_bg_blue, lg=ca_lte_giants, ld=ca_lte_dwarfs, ng=ca_nlte_giants, nd=ca_nlte_dwarfs,
         ll=ca_lte_line, nl=ca_nlte_line),
    dict(bg=sc_bg, bgb=sc_bg_blue, lg=sc_lte_giants, ld=sc_lte_dwarfs, ng=sc_nlte_giants, nd=sc_nlte_dwarfs,
         ll=sc_lte_line, nl=sc_nlte_line),
    dict(bg=ti_bg, bgb=ti_bg_blue, lg=ti_lte_giants, ld=ti_lte_dwarfs, ng=ti_nlte_giants, nd=ti_nlte_dwarfs,
         ll=ti_lte_line, nl=ti_nlte_line),
    dict(bg=ti2_bg, bgb=ti2_bg_blue, lg=ti2_lte_giants, ld=ti2_lte_dwarfs, ng=ti2_nlte_giants, nd=ti2_nlte_dwarfs,
         ll=ti2_lte_line, nl=ti2_nlte_line),
    dict(bg=v_bg, lg=v_lte_giants, lgu=v_lte_giants_ul, ld=v_lte_dwarfs, ldu=v_lte_dwarfs_ul, cross=v_crossed,
         ll=v_lte_line),
    dict(bg=cr_bg, bgb=cr_bg_blue, lg=cr_lte_giants, ld=cr_lte_dwarfs, ng=cr_nlte_giants, nd=cr_nlte_dwarfs,
         ll=cr_lte_line, nl=cr_nlte_line),
    dict(bg=mn_bg, bgb=mn_bg_blue, lg=mn_lte_giants, ld=mn_lte_dwarfs, ng=mn_nlte_giants, nd=mn_nlte_dwarfs,
         ll=mn_lte_line, nl=mn_nlte_line),
]

W, H = 1200, 1674
fig = plt.figure(figsize=(W / 100, H / 100), dpi=100)

col_left = [63, 468, 873]
row_top = [5, 342, 678, 1016, 1355]
pw, ph = 307, 267

CIRC_MS = 10.5
SQ_MS = 10.0
UL_MARK = [(-0.3, 0.5), (0.3, 0.5), (0.0, -0.5), (-0.3, 0.5)]


def xy(pts):
    return [p[0] for p in pts], [p[1] for p in pts]


def draw_ul(ax, pts, color):
    if not pts:
        return
    x, y = xy(pts)
    ax.plot(x, [v - 0.10 for v in y], linestyle='none', marker=UL_MARK, ms=11,
            mfc='none', mec=color, mew=0.8, zorder=2)


for i, (name, p) in enumerate(zip(panel_names, panels)):
    r, c = divmod(i, 3)
    ax = fig.add_axes([col_left[c] / W, 1 - (row_top[r] + ph) / H, pw / W, ph / H])
    ax.set_xlim(-3.0, -0.5)
    ax.set_ylim(-1.05, 2.06)

    # upper limit arrows (behind symbols)
    draw_ul(ax, p.get('lgu'), 'k')
    draw_ul(ax, p.get('ldu'), 'k')
    draw_ul(ax, p.get('ngu'), RED)
    if p.get('cross'):
        x, y = xy(p['cross'])
        ax.plot(x, y, linestyle='none', marker='x', ms=16, mew=0.8, color='k', zorder=2)

    # LTE symbols
    for key, mk, ms in (('lg', 'o', CIRC_MS), ('lgu', 'o', CIRC_MS), ('ld', 's', SQ_MS), ('ldu', 's', SQ_MS)):
        if p.get(key):
            x, y = xy(p[key])
            ax.plot(x, y, linestyle='none', marker=mk, ms=ms, color='k', mec='none', zorder=3)

    # comparison stars
    if p.get('bg'):
        x, y = xy(p['bg'])
        ax.plot(x, y, linestyle='none', marker='v', ms=3.6, color=CYAN, mec='none', zorder=4)
    if p.get('bgb'):
        x, y = xy(p['bgb'])
        ax.plot(x, y, linestyle='none', marker='v', ms=3.6, color=BLUE, mec='none', zorder=4)

    # NLTE symbols
    for key, mk, ms in (('ng', 'o', CIRC_MS), ('ngu', 'o', CIRC_MS), ('nd', 's', SQ_MS)):
        if p.get(key):
            x, y = xy(p[key])
            ax.plot(x, y, linestyle='none', marker=mk, ms=ms, color=RED, mec='none', zorder=5)

    # fit lines
    if p.get('ll'):
        x, y = xy(p['ll'])
        ax.plot(x, y, color='k', lw=2.3, solid_capstyle='butt', zorder=6)
    if p.get('nl'):
        x, y = xy(p['nl'])
        ax.plot(x, y, color=RED, lw=2.3, linestyle=(0, (3.6, 2.4)), zorder=6)

    ax.text(-1.10, 1.80, name, ha='left', va='center', fontsize=13.5, color='k', zorder=7)

    ax.xaxis.set_major_locator(MultipleLocator(0.5))
    ax.xaxis.set_minor_locator(MultipleLocator(0.1))
    ax.yaxis.set_major_locator(MultipleLocator(1))
    ax.yaxis.set_minor_locator(MultipleLocator(0.1))
    ax.xaxis.set_major_formatter(FormatStrFormatter('%.1f'))
    ax.yaxis.set_major_formatter(FormatStrFormatter('%d'))
    ax.tick_params(which='both', direction='in', top=True, right=True)
    ax.tick_params(which='major', length=6, width=1.6, labelsize=8.5, pad=4)
    ax.tick_params(which='minor', length=3, width=1.2)
    for lab in ax.get_xticklabels() + ax.get_yticklabels():
        lab.set_fontweight('bold')
    for s in ax.spines.values():
        s.set_linewidth(2.0)

    if name == 'MnI':
        ax.plot([-2.70], [1.77], linestyle='none', marker='o', ms=CIRC_MS, color='k', mec='none')
        ax.plot([-2.70], [1.56], linestyle='none', marker='s', ms=SQ_MS, color='k', mec='none')
        ax.text(-2.57, 1.77, 'Giants', ha='left', va='center', fontsize=14)
        ax.text(-2.57, 1.57, 'Dwarfs', ha='left', va='center', fontsize=14)
        ax.text(-2.56, 1.16, 'LTE', ha='left', va='center', fontsize=14, color='k')
        ax.text(-2.56, 0.94, 'NLTE', ha='left', va='center', fontsize=14, color=RED)

fig.text(22 / W, 1 - 815 / H, '[X/Fe]', rotation=90, ha='center', va='center', fontsize=17)
fig.text(598 / W, 1 - 1660 / H, '[Fe/H]', ha='center', va='center', fontsize=17)

fig.savefig('out.png', dpi=100)
